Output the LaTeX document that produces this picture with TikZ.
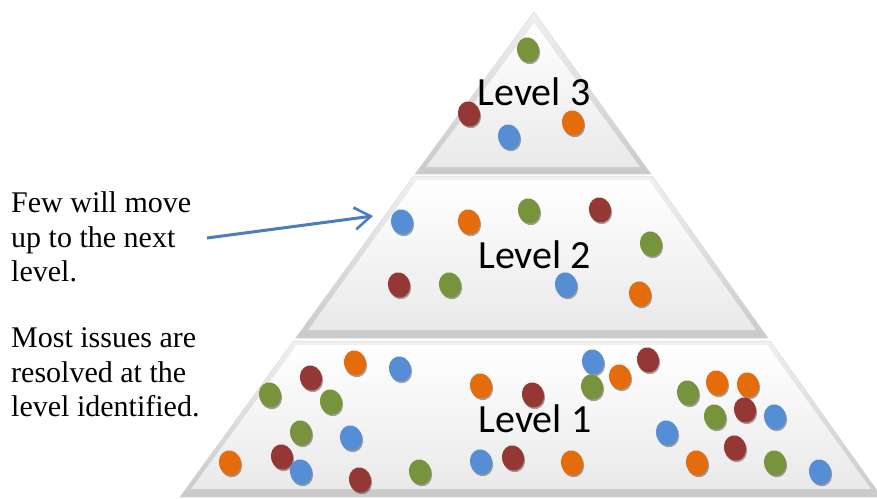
\documentclass[tikz,border=0pt]{standalone}
\usepackage{fontspec}
\setmainfont{Liberation Serif}
\newfontfamily\lvlfont{Carlito}
\usetikzlibrary{shapes.geometric,shadows,arrows.meta}
\definecolor{dgreen}{HTML}{77933C}
\definecolor{dred}{HTML}{953735}
\definecolor{dblue}{HTML}{558ED5}
\definecolor{dorange}{HTML}{E46C0A}
\definecolor{arrblue}{HTML}{4A7EBB}
\begin{document}
\begin{tikzpicture}[x=1pt,y=-1pt,
  lvlouter/.style={top color=gray!12, bottom color=gray!42, draw=gray!30, line width=0.5pt},
  lvlinner/.style={top color=white, bottom color=gray!17},
  dot/.style={ellipse, minimum width=22pt, minimum height=25.5pt, inner sep=0pt, rotate=15,
    drop shadow={shadow xshift=1pt, shadow yshift=-1.6pt, opacity=0.35, fill=black}},
  lvltext/.style={font=\lvlfont\fontsize{40}{44}\selectfont, anchor=base, inner sep=0pt},
  sidetext/.style={font=\fontsize{30}{34.5}\selectfont, align=left, anchor=north west, inner sep=0pt},
  arrowline/.style={draw=arrblue, line width=3pt, -{Straight Barb[length=16pt, width=22pt, line width=2.6pt]}}
  ]
\useasboundingbox (0,0) rectangle (877,498);
\fill[white] (0,0) rectangle (877,498);
\begin{scope}
\clip (0,0) rectangle (877,498);
% Level 3
\path[lvlouter] (534,12) -- (651,174) -- (415,174) -- cycle;
\path[lvlinner] (534,23) -- (640,167) -- (426,167) -- cycle;
% Level 2
\path[lvlouter] (413.6,176) -- (652.3,176) -- (768,338) -- (295.7,338) -- cycle;
\path[lvlinner] (417,180) -- (649,180) -- (756,330) -- (308,330) -- cycle;
% Level 1
\path[lvlouter] (293.5,341) -- (770.2,341) -- (881.8,497) -- (179.9,497) -- cycle;
\path[lvlinner] (297,345) -- (767,345) -- (871,489) -- (191,489) -- cycle;
\end{scope}

\node[lvltext] (lvl3) at (534,105) {Level 3};
\node[lvltext] (lvl2) at (534.5,268) {Level 2};
\node[lvltext] (lvl1) at (535,432) {Level 1};

% dots level 3
\foreach \x/\y/\c [count=\i] in {528/50/dgreen, 469/114/dred, 509/137/dblue, 573/123/dorange}
  \node[dot, fill=\c] (a\i) at (\x,\y) {};
% dots level 2
\foreach \x/\y/\c [count=\i] in {402/222/dblue, 469/222/dorange, 529/211/dgreen, 600/210/dred,
  651/244/dgreen, 399/285/dred, 450/285/dgreen, 566/285/dblue, 640/294/dorange}
  \node[dot, fill=\c] (b\i) at (\x,\y) {};
% dots level 1
\foreach \x/\y/\c [count=\i] in {355/363/dorange, 400/369/dblue, 311/378/dred, 270/395/dgreen,
  331/402/dgreen, 301/433/dgreen, 351/438/dblue, 230/463/dorange, 282/457/dred, 301/472/dblue,
  360/480/dred, 420/472/dgreen, 481/386/dorange, 481/462/dblue, 513/458/dred, 533/395/dred,
  593/362/dblue, 592/387/dgreen, 620/377/dorange, 648/360/dred, 572/463/dorange,
  688/393/dgreen, 717/383/dorange, 748/385/dorange, 715/417/dgreen, 745/410/dred,
  775/417/dblue, 667/433/dblue, 735/448/dred, 697/463/dorange, 775/463/dgreen, 820/472/dblue}
  \node[dot, fill=\c] (c\i) at (\x,\y) {};

\node[sidetext] (few) at (11,191.5) {Few will move\\up to the next\\level.};
\node[sidetext] (most) at (11,327.5) {Most issues are\\resolved at the\\level identified.};

\coordinate (arrfrom) at (207,238);
\coordinate (arrto) at (373,216);
\draw[arrowline] (arrfrom) -- (arrto);
\end{tikzpicture}
\end{document}
